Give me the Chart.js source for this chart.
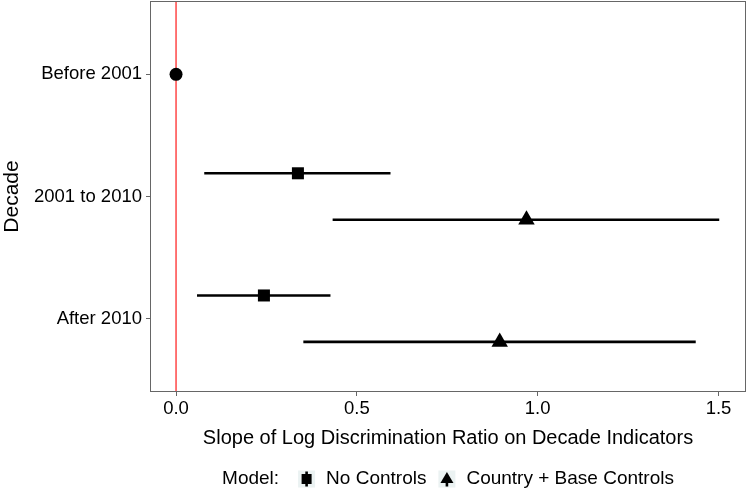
<!DOCTYPE html>
<html>
<head>
<meta charset="utf-8">
<script src="https://cdn.jsdelivr.net/npm/chart.js@4"></script>
<style>
  html,body{margin:0;padding:0;background:#fff;}
  #wrap{width:749px;height:498px;}
</style>
</head>
<body>
<div id="wrap"><canvas id="chart" width="749" height="498"></canvas></div>
<script>
// === данные ===
const decades     = ['Before 2001','2001 to 2010','After 2010'];
const xTicks      = [0, 0.5, 1.0, 1.5];
const models      = ['No Controls','Country + Base Controls'];
// оценка и интервалы (null = нет точки)
const noCtrlEst   = [null, 0.337, 0.243];
const noCtrlLo    = [null, 0.078, 0.058];
const noCtrlHi    = [null, 0.593, 0.427];
const ctrlEst     = [null, 0.969, 0.895];
const ctrlLo      = [null, 0.433, 0.352];
const ctrlHi      = [null, 1.502, 1.437];
const baseEst     = [0, null, null];   // reference decade

const DODGE = 0.19;
const FONT  = '"Liberation Sans", Arial, Helvetica, sans-serif';

// === отрезки интервалов ===
function bars(lo, hi, off){
  const out=[];
  lo.forEach((l,i)=>{
    if(l===null)return;
    out.push({
      type:'line',
      data:[{x:l,y:i+off},{x:hi[i],y:i+off}],
      borderColor:'#000',borderWidth:2.6,pointRadius:0,order:5
    });
  });
  return out;
}
function pts(est, off){
  return est.map((v,i)=>v===null?null:{x:v,y:i+off}).filter(Boolean);
}

const datasets=[
  // красная линия x=0
  {type:'line',data:[{x:0,y:-0.6},{x:0,y:2.6}],borderColor:'#ff1a1a',borderWidth:1.2,pointRadius:0,order:10},
  ...bars(noCtrlLo,noCtrlHi,-DODGE),
  ...bars(ctrlLo,ctrlHi,DODGE),
  {type:'scatter',label:'base',data:pts(baseEst,0),pointStyle:'circle',pointRadius:6.5,
   backgroundColor:'#000',borderColor:'#000',borderWidth:0,order:1},
  {type:'scatter',label:models[0],data:pts(noCtrlEst,-DODGE),pointStyle:'rect',pointRadius:8.5,
   backgroundColor:'#000',borderColor:'#000',borderWidth:0,order:1},
  {type:'scatter',label:models[1],data:pts(ctrlEst,DODGE),pointStyle:'triangle',pointRadius:9.5,
   backgroundColor:'#000',borderColor:'#000',borderWidth:0,order:1}
];

// === рамка панели + легенда ===
const panelAndLegend={
  id:'panelAndLegend',
  afterDraw(chart){
    const {ctx,chartArea:a}=chart;
    ctx.save();
    ctx.strokeStyle='#666';ctx.lineWidth=1;
    ctx.strokeRect(a.left+0.5,a.top+0.5,a.right-a.left-1,a.bottom-a.top-1);

    // легенда внизу
    ctx.font='19px '+FONT;
    ctx.fillStyle='#000';
    ctx.textBaseline='middle';
    const y=479, key=17;
    const title='Model:';
    const wT=ctx.measureText(title).width;
    const w0=ctx.measureText(models[0]).width;
    const w1=ctx.measureText(models[1]).width;
    const total=wT+19+key+11+w0+12+key+11+w1;
    let x=(a.left+a.right)/2-total/2;
    ctx.fillText(title,x,y);x+=wT+19;
    // ключ 1: квадрат
    ctx.fillStyle='#ebf2f2';ctx.fillRect(x,y-key/2,key,key);
    ctx.fillStyle='#000';
    ctx.fillRect(x+key/2-1.3,y-key/2+1,2.6,key-2);
    ctx.fillRect(x+key/2-5,y-5,10,10);
    x+=key+11;ctx.fillText(models[0],x,y);x+=w0+12;
    // ключ 2: треугольник
    ctx.fillStyle='#ebf2f2';ctx.fillRect(x,y-key/2,key,key);
    ctx.fillStyle='#000';
    ctx.fillRect(x+key/2-1.3,y,2.6,key/2-1);
    ctx.beginPath();
    ctx.moveTo(x+key/2,y-7);ctx.lineTo(x+key/2+6.5,y+4);ctx.lineTo(x+key/2-6.5,y+4);ctx.closePath();ctx.fill();
    x+=key+11;ctx.fillText(models[1],x,y);
    ctx.restore();
  }
};

new Chart(document.getElementById('chart'),{
  type:'scatter',
  data:{datasets},
  options:{
    responsive:false,animation:false,
    layout:{autoPadding:false,padding:{left:0,right:3,top:1,bottom:36}},
    plugins:{legend:{display:false},tooltip:{enabled:false}},
    scales:{
      x:{
        type:'linear',min:-0.072,max:1.576,
        afterBuildTicks:s=>{s.ticks=xTicks.map(v=>({value:v}));},
        afterFit:s=>{s.height=70;s.paddingLeft=0;s.paddingRight=0;},
        grid:{drawOnChartArea:false,drawTicks:true,tickLength:4,color:'#666'},
        border:{display:false},
        ticks:{color:'#000',font:{size:18.5,family:FONT},padding:2,callback:v=>(+v).toFixed(1),maxRotation:0},
        title:{display:true,text:'Slope of Log Discrimination Ratio on Decade Indicators',
               color:'#000',font:{size:20,family:FONT},padding:{top:0,bottom:12}}
      },
      y:{
        type:'linear',min:-0.6,max:2.6,reverse:true,
        afterBuildTicks:s=>{s.ticks=decades.map((d,i)=>({value:i}));},
        afterFit:s=>{s.width=150;s.paddingTop=0;s.paddingBottom=0;},
        grid:{drawOnChartArea:false,drawTicks:true,tickLength:4,color:'#666'},
        border:{display:false},
        ticks:{color:'#000',font:{size:18.5,family:FONT},padding:4,callback:v=>decades[v]},
        title:{display:true,text:'Decade',color:'#000',font:{size:21,family:FONT},padding:{top:0,bottom:0}}
      }
    }
  },
  plugins:[panelAndLegend]
});
</script>
</body>
</html>
